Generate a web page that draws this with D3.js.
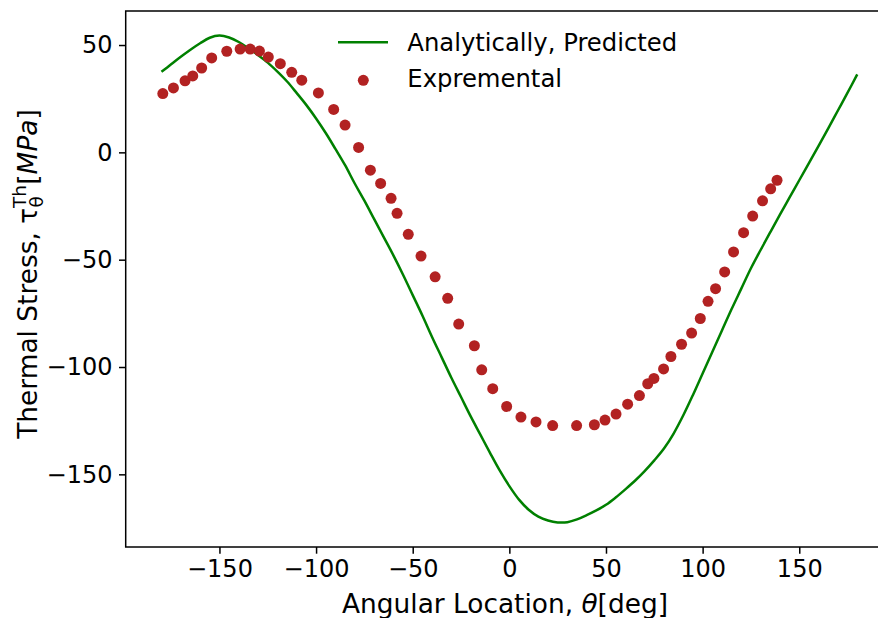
<!DOCTYPE html>
<html>
<head>
<meta charset="utf-8">
<script src="https://cdn.jsdelivr.net/npm/d3@7"></script>
<style>
  body { margin: 0; background: #fff; }
  text { font-family: "DejaVu Sans", sans-serif; fill: #000; }
</style>
</head>
<body>
<svg id="chart" width="878" height="618"></svg>
<script>
// Analytical prediction, sampled every 5 degrees
const predictedAngle = d3.range(-180, 181, 5);
const predictedStress = [37.5, 41, 44.5, 47.8, 50.8, 53.4, 54.4, 53.5, 51.4, 48.5,
  45.3, 41.8, 37.6, 33, 27.6, 22, 15.8, 9, 1.6, -6,
  -14.5, -22.5, -31, -39.5, -48, -57, -66.5, -76, -86, -95.5,
  -105, -114, -123, -131.5, -140, -148.2, -155.5, -161.8, -166.5, -169.7,
  -171.5, -172.4, -172.3, -171, -169, -166.8, -164.2, -160.8, -157, -153,
  -148.5, -143.5, -138, -131, -122.5, -113, -103, -93, -83, -73,
  -63.5, -54, -45.5, -37.2, -29, -21, -13, -5, 3, 11.2,
  19.5, 27.8, 36.3];

// Experimental measurements
const measuredAngle = [-179.3, -173.8, -167.8, -163.8, -159.2, -154, -146.2, -139.3, -134.1,
  -129.3, -124.7, -118.5, -112.6, -107.4, -98.8, -90.9, -85, -78, -71.9, -66.6, -61.2,
  -58.1, -52.3, -45.7, -38.4, -31.9, -26.2, -18.1, -14.3, -8.6, -1.4, 6, 13.8, 22.4,
  34.8, 44, 49.5, 55.2, 61.2, 67.3, 71.6, 74.8, 79.8, 83.6, 89.1, 94.3, 98.8, 102.8,
  106.7, 111.4, 116, 121.2, 125.9, 131, 135.2, 138.5];
const measuredStress = [27.4, 30, 33.3, 35.6, 39.3, 44, 47.1, 48.1, 48.1,
  47.2, 44.4, 41.3, 37.3, 33.6, 27.7, 20, 12.7, 2.3, -8.3, -14.5, -21.4,
  -28.4, -38.2, -48.3, -58, -68, -80, -90.1, -101.3, -110.1, -118.4, -123.3, -125.6, -127.3,
  -127.3, -126.9, -124.7, -121.9, -117.3, -113.3, -107.8, -105.3, -100.9, -95.1, -89.4, -84.2, -77.4, -69.4,
  -63.5, -55.7, -46.4, -37.4, -29.7, -22.6, -17, -13];

const xTicks = [-150, -100, -50, 0, 50, 100, 150];
const yTicks = [-150, -100, -50, 0, 50];
const seriesNames = ["Analytically, Predicted", "Expremental"];

const lineColor = "#008000";
const dotColor = "#b22222";
const tickFont = 24;
const legendFont = 24.3;
const titleFont = 26.4;

const svg = d3.select("#chart");
const plot = { left: 125.7, right: 893, top: 11, bottom: 547 };

const x = d3.scaleLinear().domain([-198.5, 198.5]).range([plot.left, plot.right]);
const y = d3.scaleLinear().domain([-183.85, 65.85]).range([plot.bottom, plot.top]);

const predicted = predictedAngle.map((a, i) => ({ a, v: predictedStress[i] }));
const measured = measuredAngle.map((a, i) => ({ a, v: measuredStress[i] }));

// Analytical curve
svg.append("path")
  .datum(predicted)
  .attr("fill", "none")
  .attr("stroke", lineColor)
  .attr("stroke-width", 2.5)
  .attr("stroke-linejoin", "round")
  .attr("d", d3.line().x(d => x(d.a)).y(d => y(d.v)).curve(d3.curveCatmullRom.alpha(0.5)));

// Experimental points
svg.append("g")
  .selectAll("circle")
  .data(measured)
  .join("circle")
  .attr("cx", d => x(d.a))
  .attr("cy", d => y(d.v))
  .attr("r", 5.5)
  .attr("fill", dotColor);

// Frame
svg.append("rect")
  .attr("x", plot.left).attr("y", plot.top)
  .attr("width", plot.right - plot.left).attr("height", plot.bottom - plot.top)
  .attr("fill", "none").attr("stroke", "#000").attr("stroke-width", 1.5);

// Axes
const xAxis = svg.append("g")
  .attr("transform", `translate(0,${plot.bottom})`)
  .call(d3.axisBottom(x).tickValues(xTicks).tickSize(6.7).tickPadding(6.5).tickSizeOuter(0));
const yAxis = svg.append("g")
  .attr("transform", `translate(${plot.left},0)`)
  .call(d3.axisLeft(y).tickValues(yTicks).tickSize(6.7).tickPadding(6.5).tickSizeOuter(0));

[xAxis, yAxis].forEach(g => {
  g.select(".domain").remove();
  g.selectAll(".tick line").attr("stroke", "#000").attr("stroke-width", 1.5);
  g.selectAll(".tick text")
    .attr("font-family", "DejaVu Sans, sans-serif")
    .attr("font-size", tickFont)
    .attr("fill", "#000");
});

// Axis titles
const xTitle = svg.append("text")
  .attr("x", 505)
  .attr("y", 613)
  .attr("text-anchor", "middle")
  .attr("font-size", titleFont);
xTitle.append("tspan").text("Angular Location, ");
xTitle.append("tspan").attr("font-style", "italic").text("θ");
xTitle.append("tspan").text("[deg]");

const yTitle = svg.append("text")
  .attr("transform", "translate(37,274) rotate(-90)")
  .attr("text-anchor", "middle")
  .attr("font-size", titleFont);
yTitle.append("tspan").text("Thermal Stress, τ");
yTitle.append("tspan").attr("font-size", 18.5).attr("dy", -11).text("Th");
yTitle.append("tspan").attr("font-size", 18.5).attr("dx", -22.6).attr("dy", 16.5).text("θ");
yTitle.append("tspan").attr("dx", 11.5).attr("dy", -5.5).text("[");
yTitle.append("tspan").attr("font-style", "italic").text("MPa");
yTitle.append("tspan").text("]");

// Legend
const legend = svg.append("g");
legend.append("line")
  .attr("x1", 338).attr("x2", 388).attr("y1", 42.3).attr("y2", 42.3)
  .attr("stroke", lineColor).attr("stroke-width", 2.5);
legend.append("circle")
  .attr("cx", 363.3).attr("cy", 80.3).attr("r", 5.5).attr("fill", dotColor);
legend.selectAll("text")
  .data(seriesNames)
  .join("text")
  .attr("x", 407.3)
  .attr("y", (d, i) => 51.4 + i * 35.5)
  .attr("font-size", legendFont)
  .text(d => d);
</script>
</body>
</html>
